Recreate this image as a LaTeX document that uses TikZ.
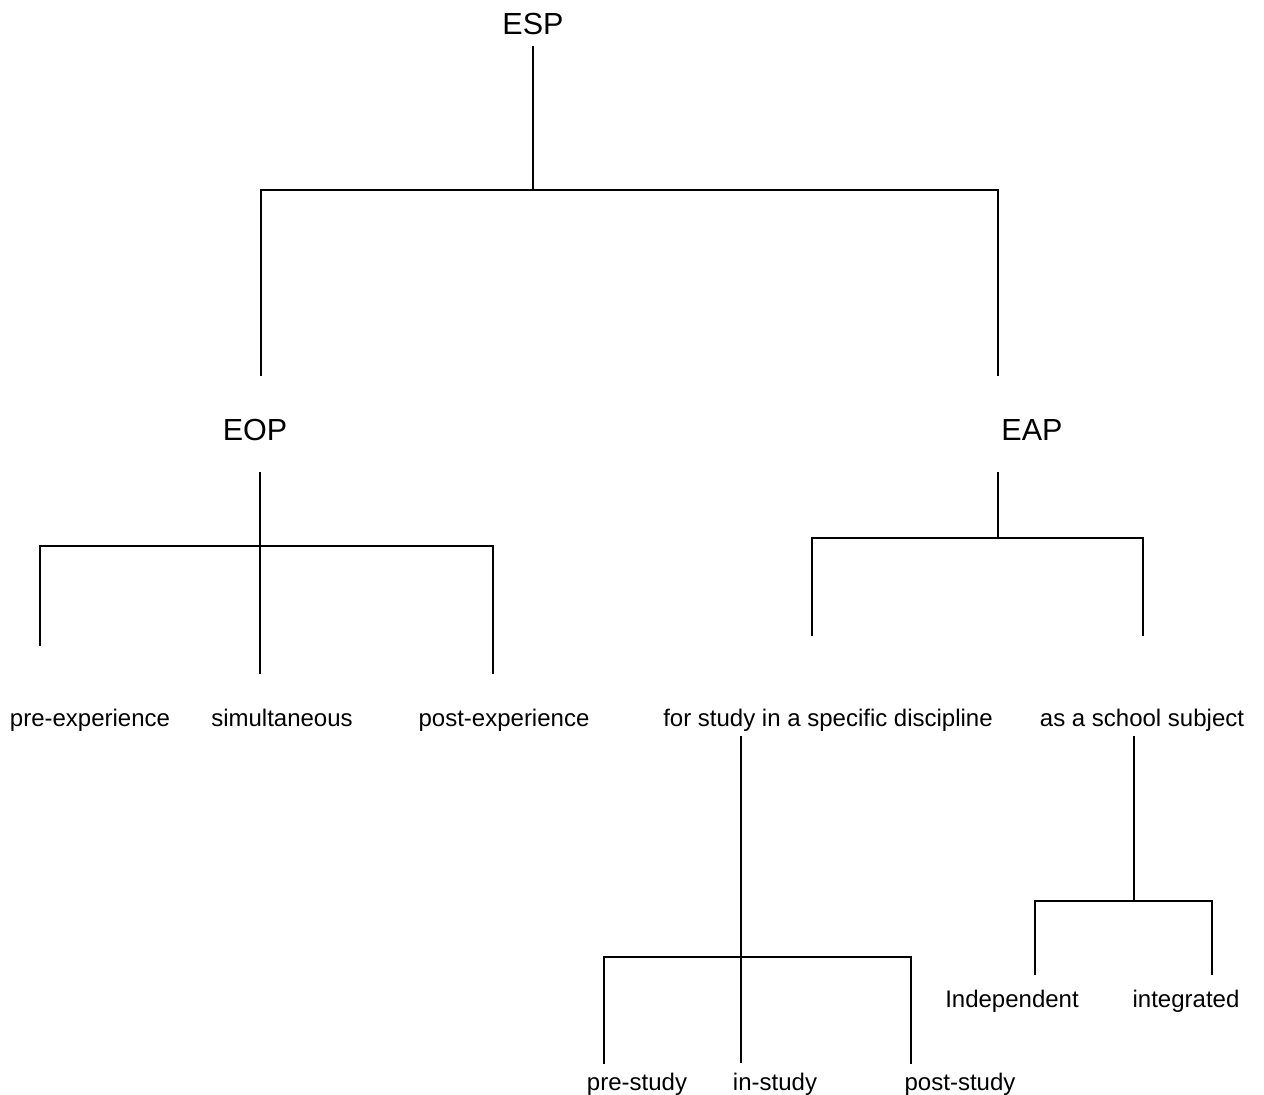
\documentclass[tikz,border=0pt]{standalone}
\usepackage{fontspec}
\setmainfont{Liberation Sans}
\begin{document}
\begin{tikzpicture}[x=1pt,y=-1pt,
  big/.style={anchor=base,inner sep=0pt,font=\fontsize{30.5}{36}\selectfont},
  small/.style={anchor=base,inner sep=0pt,font=\fontsize{24}{28}\selectfont},
  ln/.style={line width=1.6pt,line cap=rect}]
\useasboundingbox[fill=white] (0,0) rectangle (1264,1095);
% nodes
\node[big] (esp) at (533,34) {ESP};
\node[big] (eop) at (255,440) {EOP};
\node[big] (eap) at (1032,440) {EAP};
\node[small] (pre) at (90,726) {pre-experience};
\node[small] (sim) at (282,726) {simultaneous};
\node[small] (post) at (504,726) {post-experience};
\node[small] (fsd) at (828,726) {for study in a specific discipline};
\node[small] (ass) at (1142,726) {as a school subject};
\node[small] (pst) at (637,1090) {pre-study};
\node[small] (ist) at (775,1090) {in-study};
\node[small] (pos) at (960,1090) {post-study};
\node[small] (ind) at (1012,1007) {Independent};
\node[small] (itg) at (1186,1007) {integrated};
% coordinates
\coordinate (a0) at (533,47);  \coordinate (a1) at (533,190);
\coordinate (aL) at (261,190); \coordinate (aR) at (998,190);
\coordinate (aLe) at (261,375); \coordinate (aRe) at (998,375);
\coordinate (b0) at (260,473); \coordinate (b1) at (260,546); \coordinate (b2) at (260,673);
\coordinate (bL) at (40,546);  \coordinate (bLe) at (40,645);
\coordinate (bR) at (493,546); \coordinate (bRe) at (493,673);
\coordinate (c0) at (998,473); \coordinate (c1) at (998,538);
\coordinate (cL) at (812,538); \coordinate (cLe) at (812,635);
\coordinate (cR) at (1143,538); \coordinate (cRe) at (1143,635);
\coordinate (d0) at (741,737); \coordinate (d1) at (741,957); \coordinate (d2) at (741,1062);
\coordinate (dL) at (604,957); \coordinate (dLe) at (604,1063);
\coordinate (dR) at (911,957); \coordinate (dRe) at (911,1063);
\coordinate (e0) at (1134,737); \coordinate (e1) at (1134,901);
\coordinate (eL) at (1035,901); \coordinate (eLe) at (1035,974);
\coordinate (eR) at (1212,901); \coordinate (eRe) at (1212,974);
% connectors
\draw[ln] (a0) -- (a1);
\draw[ln] (aLe) -- (aL) -- (aR) -- (aRe);
\draw[ln] (b0) -- (b2);
\draw[ln] (bLe) -- (bL) -- (bR) -- (bRe);
\draw[ln] (c0) -- (c1);
\draw[ln] (cLe) -- (cL) -- (cR) -- (cRe);
\draw[ln] (d0) -- (d2);
\draw[ln] (dLe) -- (dL) -- (dR) -- (dRe);
\draw[ln] (e0) -- (e1);
\draw[ln] (eLe) -- (eL) -- (eR) -- (eRe);
\end{tikzpicture}
\end{document}
